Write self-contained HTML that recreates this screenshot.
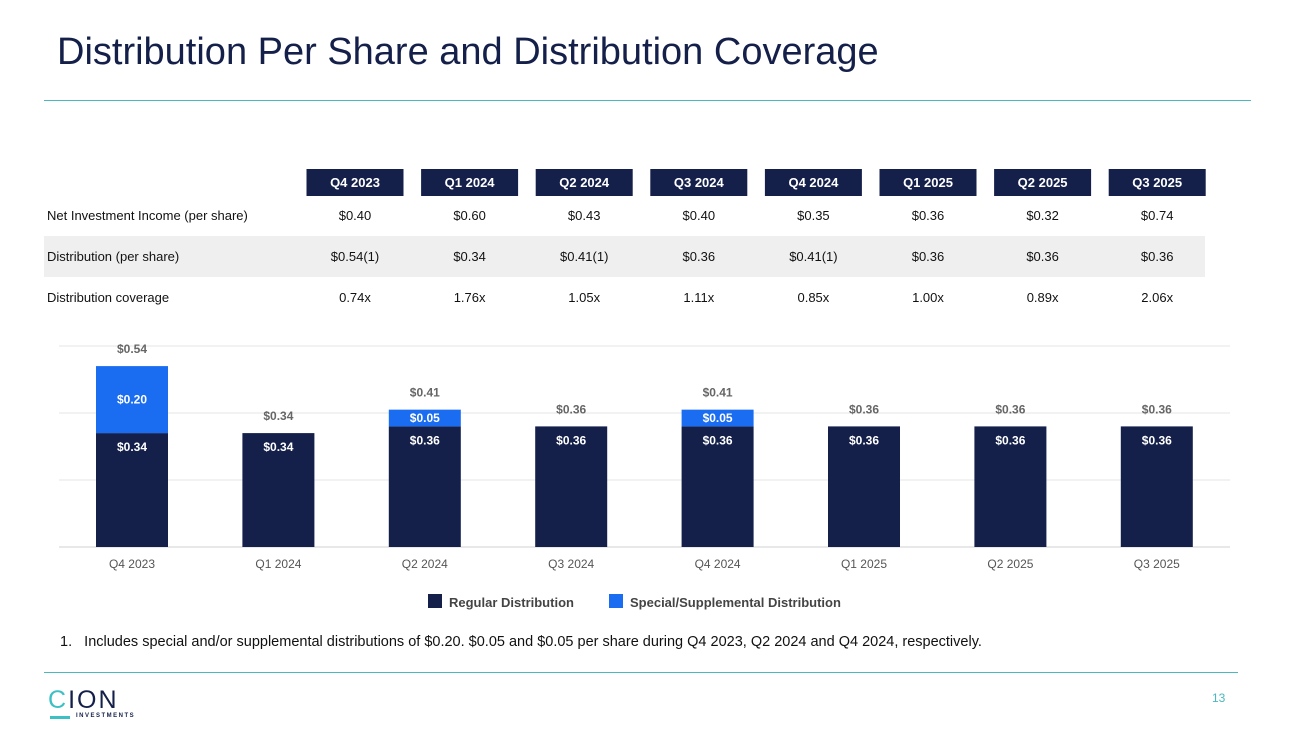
<!DOCTYPE html>
<html><head><meta charset="utf-8"><style>
body{margin:0;width:1300px;height:731px;background:#fff;font-family:"Liberation Sans",sans-serif;position:relative;overflow:hidden}
.t{position:absolute;white-space:nowrap}
</style></head><body>
<div class="t" style="left:57px;top:31px;font-size:38px;color:#14204a">Distribution Per Share and Distribution Coverage</div>
<div style="position:absolute;left:44px;top:100px;width:1207px;height:1px;background:#4bb8c0"></div>
<svg id="tbl" width="1300" height="320" style="position:absolute;left:0;top:0"></svg>
<svg id="chart" width="1300" height="731" style="position:absolute;left:0;top:0"></svg>
<div class="t" style="left:60px;top:634px;font-size:14.5px;color:#111">1.&nbsp;&nbsp; Includes special and/or supplemental distributions of $0.20. $0.05 and $0.05 per share during Q4 2023, Q2 2024 and Q4 2024, respectively.</div>
<div style="position:absolute;left:44px;top:672px;width:1194px;height:1px;background:#4bb8c0"></div>
<div style="position:absolute;left:48px;top:686px">
<div class="t" style="left:0;top:0;font-size:25px;color:#14204a;letter-spacing:2px"><span style="color:#3cc0c4">C</span>ION</div>
<div style="position:absolute;left:2px;top:30px;width:20px;height:3px;background:#3cc0c4"></div>
<div class="t" style="left:28px;top:27px;font-size:6px;font-weight:bold;color:#14204a;letter-spacing:1.5px">INVESTMENTS</div>
</div>
<div class="t" style="left:1212px;top:691px;font-size:12px;color:#4bb8c0">13</div>
<script>
const quarters=["Q4 2023","Q1 2024","Q2 2024","Q3 2024","Q4 2024","Q1 2025","Q2 2025","Q3 2025"];
const nii=["$0.40","$0.60","$0.43","$0.40","$0.35","$0.36","$0.32","$0.74"];
const dist=["$0.54(1)","$0.34","$0.41(1)","$0.36","$0.41(1)","$0.36","$0.36","$0.36"];
const cover=["0.74x","1.76x","1.05x","1.11x","0.85x","1.00x","0.89x","2.06x"];
const regular=[0.34,0.34,0.36,0.36,0.36,0.36,0.36,0.36];
const special=[0.20,0,0.05,0,0.05,0,0,0];
const yTicks=[0,0.2,0.4,0.6];
const NS="http://www.w3.org/2000/svg";
function mk(p,tag,a,txt){const e=document.createElementNS(NS,tag);for(const k in a)e.setAttribute(k,a[k]);if(txt!==undefined)e.textContent=txt;p.appendChild(e);return e;}
const tbl=document.getElementById('tbl');
const colX=i=>355+i*114.6;
let e=mk(tbl,'rect',{x:44,y:236,width:1161,height:41,fill:'#efefef'});


const rows=[["Net Investment Income (per share)",nii,215],["Distribution (per share)",dist,256],["Distribution coverage",cover,297]];
rows.forEach(r=>{
 e=mk(tbl,'text',{x:47,y:r[2]+5,'font-size':13,fill:'#111'},r[0]);
 
 
 r[1].forEach((v,i)=>{
  e=mk(tbl,'text',{x:colX(i),y:r[2]+5,'font-size':13,fill:'#111','text-anchor':'middle'},v);
  
  
 });
});
quarters.forEach((q,i)=>{
 e=mk(tbl,'rect',{x:colX(i)-48.5,y:169,width:97,height:27,fill:'#14204a'});
 
 
 mk(tbl,'text',{x:colX(i),y:187,'font-size':13,'font-weight':'bold',fill:'#fff','text-anchor':'middle'},q);
});
const ch=document.getElementById('chart');
const y=v=>547-v*335;
const bx=i=>132+i*146.4;
const bw=72;
yTicks.forEach(t=>{
 e=mk(ch,'line',{x1:59,x2:1230,y1:y(t),y2:y(t),stroke:t===0?'#d0d0d0':'#e6e6e6','stroke-width':1});
 
 
});
quarters.forEach((q,i)=>{
 const r=regular[i],s=special[i];
 e=mk(ch,'rect',{x:bx(i)-bw/2,y:y(r),width:bw,height:y(0)-y(r),fill:'#14204a'});
 
 
 mk(ch,'text',{x:bx(i),y:y(r)+18,'font-size':12,'font-weight':'bold',fill:'#fff','text-anchor':'middle'},'$'+r.toFixed(2));
 if(s>0){
  e=mk(ch,'rect',{x:bx(i)-bw/2,y:y(r+s),width:bw,height:y(r)-y(r+s),fill:'#1a6cf0'});
  
  
  mk(ch,'text',{x:bx(i),y:(y(r)+y(r+s))/2+4,'font-size':12,'font-weight':'bold',fill:'#fff','text-anchor':'middle'},'$'+s.toFixed(2));
 }
 e=mk(ch,'text',{x:bx(i),y:y(r+s)-13,'font-size':12,'font-weight':'bold',fill:'#666','text-anchor':'middle'},'$'+(r+s).toFixed(2));
 
 
 e=mk(ch,'text',{x:bx(i),y:568,'font-size':12,fill:'#555','text-anchor':'middle'},q);
 
 
});
e=mk(ch,'rect',{x:428,y:594,width:14,height:14,fill:'#14204a'});


mk(ch,'text',{x:449,y:607,'font-size':13,'font-weight':'bold',fill:'#444'},'Regular Distribution');
e=mk(ch,'rect',{x:609,y:594,width:14,height:14,fill:'#1a6cf0'});


mk(ch,'text',{x:630,y:607,'font-size':13,'font-weight':'bold',fill:'#444'},'Special/Supplemental Distribution');
</script>
</body></html>
